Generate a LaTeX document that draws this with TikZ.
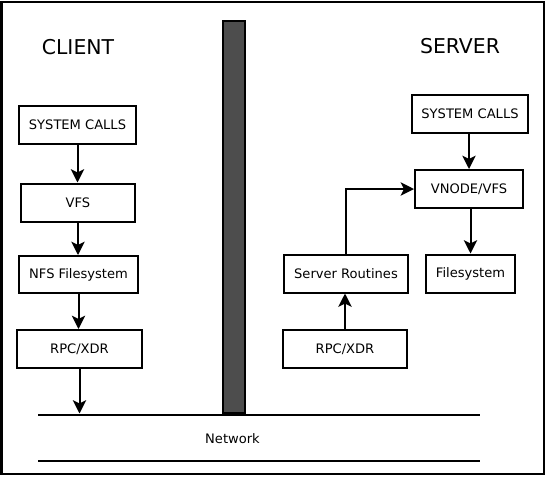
\documentclass[tikz,border=0pt]{standalone}
\usepackage{fontspec}
\setmainfont{DejaVu Sans}
\usetikzlibrary{arrows.meta}
\definecolor{nfsInk}{HTML}{000000}
\definecolor{nfsWall}{HTML}{4D4D4D}
\tikzset{
  nfs frame/.style={draw=nfsInk, line width=1.5pt},
  nfs box/.style={draw=nfsInk, line width=1.5pt, rectangle, minimum height=28.5pt, inner sep=0pt, font=\fontsize{9.8}{11}\selectfont},
  nfs arrow/.style={draw=nfsInk, line width=1.5pt, -{Stealth[length=10pt, width=10pt, inset=2.5pt]}},
  nfs line/.style={draw=nfsInk, line width=1.5pt},
  nfs title/.style={font=\fontsize{15.3}{18}\selectfont, text=nfsInk},
  nfs small label/.style={font=\fontsize{9.8}{11}\selectfont, text=nfsInk},
}
\begin{document}
\begin{tikzpicture}[x=0.75pt, y=-0.75pt]
  \useasboundingbox (0,0) rectangle (546,476);
  \draw[nfs frame] (1.5,1.5) rectangle (544,473.5);
  % ----- dividing wall -----
  \draw[nfs frame, fill=nfsWall] (222.5,20.5) rectangle (245,412.5);
  % ----- titles -----
  \node[nfs title] (client) at (78,47) {CLIENT};
  \node[nfs title] (server) at (460,46) {SERVER};
  % ----- client side -----
  \node[nfs box, minimum width=87.75pt] (sysc) at (77.5,125) {SYSTEM CALLS};
  \node[nfs box, minimum width=85.5pt] (vfsc) at (78,202.5) {VFS};
  \node[nfs box, minimum width=89.25pt, minimum height=27.75pt] (nfsc) at (78.5,274.5) {NFS Filesystem};
  \node[nfs box, minimum width=93.75pt] (rpcc) at (79.5,349) {RPC/XDR};
  % ----- server side -----
  \node[nfs box, minimum width=87pt] (syss) at (470,114) {SYSTEM CALLS};
  \node[nfs box, minimum width=81pt] (vnode) at (469,189) {VNODE/VFS};
  \node[nfs box, minimum width=93pt] (routines) at (346,273.5) {Server Routines};
  \node[nfs box, minimum width=66.75pt] (fs) at (470.5,273.5) {Filesystem};
  \node[nfs box, minimum width=93pt] (rpcs) at (345,349) {RPC/XDR};
  % ----- network -----
  \coordinate (nettopL) at (38,415);
  \coordinate (nettopR) at (480,415);
  \coordinate (netbotL) at (38,461);
  \coordinate (netbotR) at (480,461);
  \coordinate (netin) at (79.5,413.5);
  \draw[nfs line] (nettopL) -- (nettopR);
  \draw[nfs line] (netbotL) -- (netbotR);
  \node[nfs small label] (network) at (232.5,439) {Network};
  % ----- arrows -----
  \draw[nfs arrow] (sysc) -- (sysc |- vfsc.north);
  \draw[nfs arrow] (vfsc) -- (vfsc |- nfsc.north);
  \draw[nfs arrow] (nfsc) -- (nfsc |- rpcc.north);
  \draw[nfs arrow] (rpcc) -- (netin);
  \draw[nfs arrow] (syss.south -| vnode) -- (vnode);
  \draw[nfs arrow] (vnode.south -| fs) -- (fs);
  \draw[nfs arrow] (rpcs) -- (rpcs |- routines.south);
  \draw[nfs arrow] (routines) |- (vnode);
\end{tikzpicture}
\end{document}
